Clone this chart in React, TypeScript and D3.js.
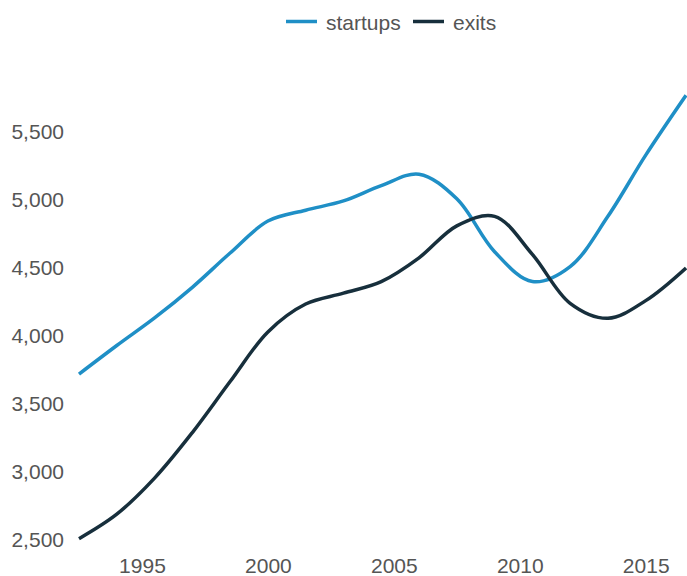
import React, { useEffect, useRef } from 'react';
import * as d3 from 'd3';

// values
const years = [1992.5, 1994, 1995.5, 1997, 1998.5, 2000, 2001.5, 2003, 2004.5, 2006, 2007.5, 2009, 2010.5, 2012, 2013.5, 2015, 2016.6];
const startups = [3720, 3930, 4133, 4358, 4610, 4845, 4925, 4993, 5106, 5190, 5009, 4620, 4400, 4510, 4880, 5330, 5770];
const exits = [2510, 2690, 2955, 3290, 3665, 4030, 4235, 4315, 4400, 4575, 4810, 4880, 4600, 4240, 4130, 4260, 4500];
const yTicks = [2500, 3000, 3500, 4000, 4500, 5000, 5500];
const xTicks = [1995, 2000, 2005, 2010, 2015];
const seriesNames = ['startups', 'exits'];
const seriesColors = ['#1f8fc6', '#172f3c'];

const W = 687;
const H = 576;

const App = () => {
  const svgRef = useRef<SVGSVGElement>(null);

  useEffect(() => {
    const svg = d3.select(svgRef.current);
    svg.selectAll('*').remove();

    const font = '"Liberation Sans", Arial, Helvetica, sans-serif';

    const x = d3.scaleLinear().domain([1992.5, 2016.6]).range([79, 686]);
    const y = d3.scaleLinear().domain([2500, 5500]).range([540, 132]);

    // y axis
    const yAxis = svg.append('g')
      .attr('transform', 'translate(72,0)')
      .call(d3.axisLeft(y).tickValues(yTicks).tickSize(0).tickPadding(8).tickFormat(d3.format(',')));
    yAxis.select('.domain').remove();
    yAxis.selectAll('text')
      .attr('fill', '#555')
      .style('font-family', font)
      .style('font-size', '21px');

    // x axis
    const xAxis = svg.append('g')
      .attr('transform', 'translate(0,550)')
      .call(d3.axisBottom(x).tickValues(xTicks).tickSize(0).tickPadding(8).tickFormat(d3.format('d')));
    xAxis.select('.domain').remove();
    xAxis.selectAll('text')
      .attr('fill', '#555')
      .style('font-family', font)
      .style('font-size', '21px');

    // lines
    const line = d3.line<number>()
      .x((_, i) => x(years[i]))
      .y(d => y(d))
      .curve(d3.curveCatmullRom.alpha(0.5));

    [startups, exits].forEach((vals, i) => {
      svg.append('path')
        .attr('d', line(vals))
        .attr('fill', 'none')
        .attr('stroke', seriesColors[i])
        .attr('stroke-width', 3.5);
    });

    // legend
    const legendPos = [286, 413];
    const legend = svg.append('g');
    seriesNames.forEach((name, i) => {
      legend.append('line')
        .attr('x1', legendPos[i])
        .attr('x2', legendPos[i] + 31)
        .attr('y1', 21.5)
        .attr('y2', 21.5)
        .attr('stroke', seriesColors[i])
        .attr('stroke-width', 3.5);
      legend.append('text')
        .attr('x', legendPos[i] + 40)
        .attr('y', 29.5)
        .attr('fill', '#555')
        .style('font-family', font)
        .style('font-size', '21px')
        .text(name);
    });
  }, []);

  return (
    <div style={{ position: 'absolute', left: 0, top: 0 }}>
      <svg ref={svgRef} width={W} height={H} style={{ display: 'block' }}></svg>
    </div>
  );
};

export default App;
